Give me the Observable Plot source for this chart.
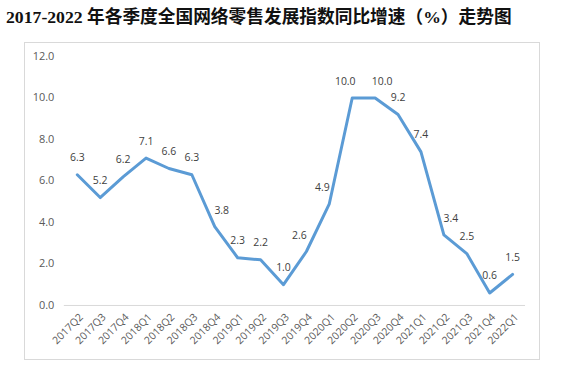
<!DOCTYPE html>
<html>
<head>
<meta charset="utf-8">
<script src="https://cdn.jsdelivr.net/npm/d3@7"></script>
<script src="https://cdn.jsdelivr.net/npm/@observablehq/plot@0.6"></script>
<style>
  body { margin: 0; background: #fff; width: 572px; height: 369px; position: relative; overflow: hidden; }
  #title { position: absolute; left: 6px; top: 2px; font-family: "Liberation Serif", "Noto Sans CJK SC", serif; font-weight: bold; font-size: 17.7px; color: #111; white-space: nowrap; }
  #box { position: absolute; left: 24px; top: 42px; width: 516px; height: 318px; border: 1px solid #d9d9d9; box-sizing: border-box; }
  #box svg { position: absolute; left: -1px; top: -1px; }
</style>
</head>
<body>
<div id="title">2017-2022 年各季度全国网络零售发展指数同比增速（%）走势图</div>
<div id="box"></div>
<script>
const quarters = ["2017Q2","2017Q3","2017Q4","2018Q1","2018Q2","2018Q3","2018Q4","2019Q1","2019Q2","2019Q3","2019Q4","2020Q1","2020Q2","2020Q3","2020Q4","2021Q1","2021Q2","2021Q3","2021Q4","2022Q1"];
const growth = [6.3,5.2,6.2,7.1,6.6,6.3,3.8,2.3,2.2,1.0,2.6,4.9,10.0,10.0,9.2,7.4,3.4,2.5,0.6,1.5];
const yTicks = [0,2,4,6,8,10,12];
// labels nudged sideways in the original to keep clear of the line
const labelsLeft = ["2019Q4","2020Q1","2020Q2"];
const labelsRight = ["2018Q4","2020Q3","2021Q2"];

const data = quarters.map((q, i) => ({q, v: growth[i]}));
const fmt = d => d.v.toFixed(1);
const labelStyle = {x: "q", y: "v", text: fmt, fill: "#404040", fontSize: 10.5};

const chart = Plot.plot({
  width: 516,
  height: 318,
  marginTop: 14,
  marginBottom: 54,
  marginLeft: 40,
  marginRight: 13,
  style: {fontFamily: "'Open Sans', 'Liberation Sans', sans-serif", fontSize: "11px", color: "#595959", background: "transparent"},
  x: {type: "point", domain: quarters, padding: 0.5, label: null},
  y: {domain: [0, 12], label: null},
  marks: [
    Plot.ruleY([0], {stroke: "#d9d9d9", strokeWidth: 1}),
    Plot.axisY({ticks: yTicks, tickFormat: d => d.toFixed(1), tickSize: 0, tickPadding: 10, fontSize: 11, fill: "#595959", label: null}),
    Plot.axisX({tickSize: 0, tickRotate: -45, tickPadding: 10, dx: 4, fontSize: 10.5, fill: "#595959", label: null}),
    Plot.line(data, {x: "q", y: "v", stroke: "#5B9BD5", strokeWidth: 3, strokeLinejoin: "round", strokeLinecap: "round"}),
    Plot.text(data.filter(d => !labelsLeft.includes(d.q) && !labelsRight.includes(d.q)), {...labelStyle, dy: -17}),
    Plot.text(data.filter(d => labelsLeft.includes(d.q)), {...labelStyle, dx: -7, dy: -16}),
    Plot.text(data.filter(d => labelsRight.includes(d.q)), {...labelStyle, dx: 7, dy: -16})
  ]
});
document.getElementById("box").appendChild(chart);
</script>
</body>
</html>
